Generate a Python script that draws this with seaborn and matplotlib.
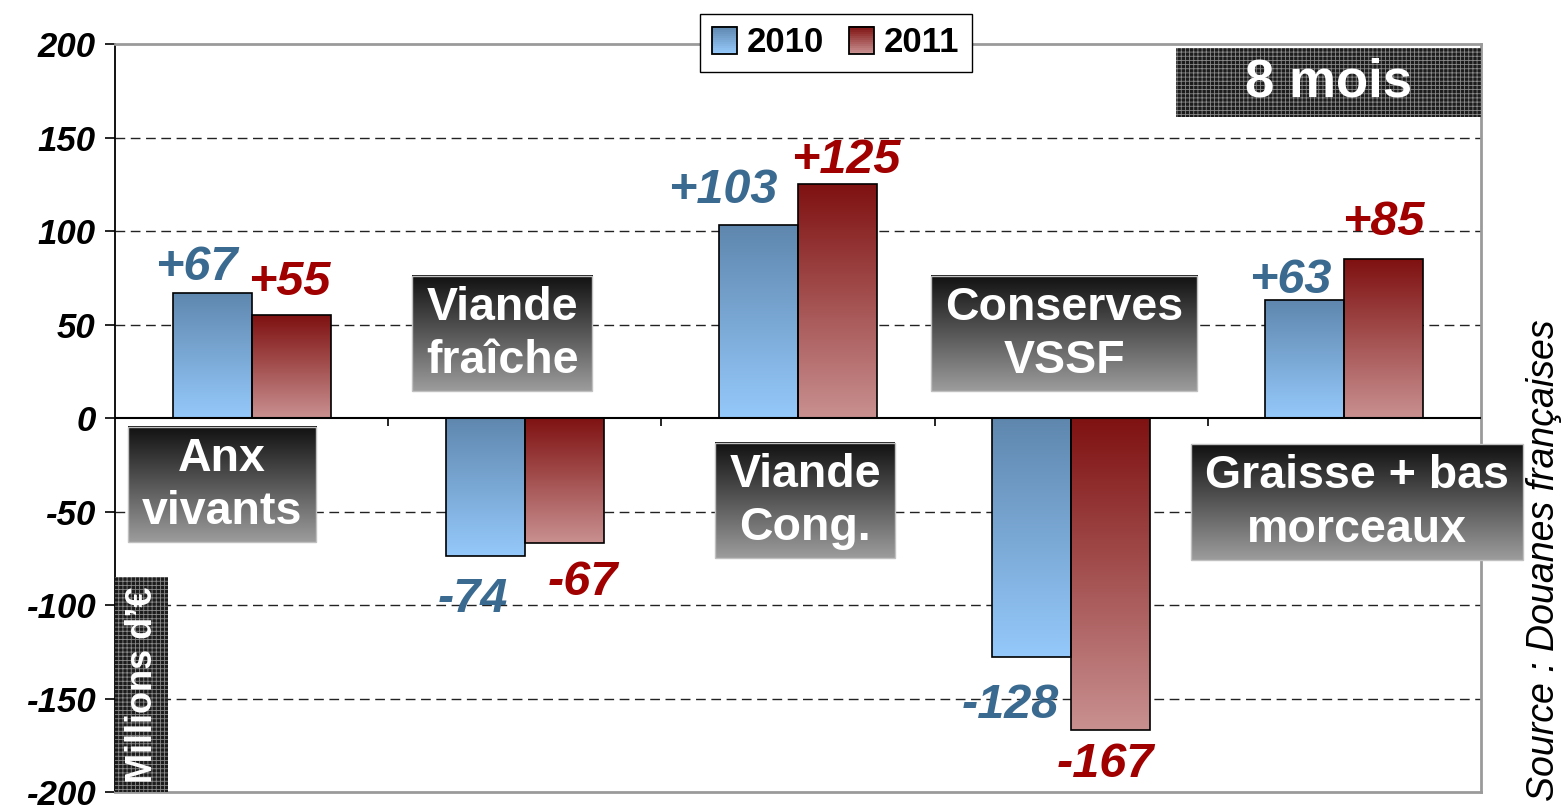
import numpy as np
import pandas as pd
import matplotlib
matplotlib.use("Agg")
import matplotlib.pyplot as plt
import seaborn as sns
from matplotlib.patches import Rectangle, Patch
from matplotlib.legend_handler import HandlerBase
from matplotlib.colors import to_rgb

# ---------------- data ----------------
categories = ["Anx vivants", "Viande fraîche", "Viande Cong.", "Conserves VSSF", "Graisse + bas morceaux"]
cat_labels = ["Anx\nvivants", "Viande\nfraîche", "Viande\nCong.", "Conserves\nVSSF", "Graisse + bas\nmorceaux"]
years = ["2010", "2011"]
values_2010 = [67, -74, 103, -128, 63]
values_2011 = [55, -67, 125, -167, 85]
yticks = [200, 150, 100, 50, 0, -50, -100, -150, -200]

# ---------------- styles / layout ----------------
grad_2010 = ("#5f87ae", "#95c9fb")   # top, bottom
grad_2011 = ("#7f1111", "#c99090")
txt_2010 = "#3b6a90"
txt_2011 = "#a00000"
box_grad = ("#111111", "#9c9c9c")
# label box centres (x in category units, y in data units)
label_pos = [(-0.108, -36), (0.917, 44.5), (2.026, -44.5), (2.974, 44.5), (4.046, -45.5)]
# value-label placement relative to the bar end (pixels): right edge shift, baseline shift (up +)
lab_dx = {"2010": [-14, -17, -21, -12, -13], "2011": [0, 14, 23, 4, 1]}
lab_dy = {"2010": [12.7, -55.6, 22, -60.6, 7], "2011": [20, -51.7, 11, -46.7, 24]}
PX2PT = 72 / 100

sns.set_theme(style="white")
plt.rcParams["font.family"] = ["Liberation Sans", "DejaVu Sans"]
plt.rcParams["hatch.linewidth"] = 0.6
plt.rcParams["text.color"] = "black"

df = pd.DataFrame({
    "cat": categories * 2,
    "year": [years[0]] * len(categories) + [years[1]] * len(categories),
    "value": values_2010 + values_2011,
})

fig = plt.figure(figsize=(15.65, 8.09), dpi=100)
ax = fig.add_axes([0.07348, 0.02101, 0.87284, 0.92460])

sns.barplot(data=df, x="cat", y="value", hue="year", order=categories, hue_order=years,
            palette=[grad_2010[0], grad_2011[0]], width=0.578, saturation=1,
            edgecolor="black", linewidth=1.2, legend=False, ax=ax, zorder=3)

ax.set_ylim(-200, 200)
ax.set_xlim(-0.5, len(categories) - 0.5)
ax.set_autoscale_on(False)


def gradient(top, bottom, n=256):
    t = np.linspace(0, 1, n)[:, None]
    a, b = np.array(to_rgb(top)), np.array(to_rgb(bottom))
    return (a * (1 - t) + b * t)[:, None, :]


# gradient fill for bars
for cont, grad in zip(ax.containers, [grad_2010, grad_2011]):
    for p in cont.patches:
        x0 = p.get_x()
        w = p.get_width()
        y0 = p.get_y()
        h = p.get_height()
        lo, hi = min(y0, y0 + h), max(y0, y0 + h)
        im = ax.imshow(gradient(*grad), extent=[x0, x0 + w, lo, hi], origin="upper",
                       aspect="auto", zorder=2.9, interpolation="bilinear")
        im.set_clip_path(p)
        p.set_facecolor("none")
        p.set_zorder(3.1)

ax.set_ylim(-200, 200)
ax.set_xlim(-0.5, len(categories) - 0.5)

# grid and zero line
for y in yticks:
    if y not in (200, -200, 0):
        ax.axhline(y, color="#222222", lw=1.0, ls=(0, (7, 4)), zorder=1)
ax.axhline(0, color="black", lw=1.5, zorder=3.2)
ax.vlines(np.arange(len(categories) - 1) + 0.5, 0, -4.5, color="black", lw=1.2, zorder=3.2)

# spines / ticks
for s in ["top", "right", "bottom"]:
    ax.spines[s].set_color("#9a9a9a")
    ax.spines[s].set_linewidth(2)
ax.spines["left"].set_color("black")
ax.spines["left"].set_linewidth(1.3)
ax.set_xticks([])
ax.set_yticks(yticks)
ax.set_yticklabels([str(v) for v in yticks])
ax.tick_params(axis="y", direction="out", length=7, width=1.2, color="black", left=True,
               labelsize=25, pad=7, labelcolor="black")
for lab in ax.get_yticklabels():
    lab.set_fontweight("bold")
    lab.set_fontstyle("italic")
ax.set_xlabel("")
ax.set_ylabel("")

# value labels
for cont, yr, col in zip(ax.containers, years, [txt_2010, txt_2011]):
    vals = values_2010 if yr == "2010" else values_2011
    for i, (p, v) in enumerate(zip(cont.patches, vals)):
        xy = (p.get_x() + p.get_width(), v)
        ax.annotate(f"{v:+d}", xy=xy,
                    xytext=(lab_dx[yr][i] * PX2PT, lab_dy[yr][i] * PX2PT),
                    textcoords="offset points", ha="right", va="baseline",
                    fontsize=35, fontweight="bold", fontstyle="italic",
                    color=col, zorder=7)

# category label texts
cat_texts = []
for lab, (cx, cy) in zip(cat_labels, label_pos):
    t = ax.text(cx, cy, lab, ha="center", va="center", fontsize=33.5, fontweight="bold",
                color="white", linespacing=1.27, zorder=7, clip_on=False)
    cat_texts.append(t)

# "8 mois" box
ax.add_patch(Rectangle((0.7767, 0.9024), 0.2233, 0.0923, transform=ax.transAxes,
                       facecolor="#1c1c1c", edgecolor="#8a8a8a", hatch="++++", lw=0, zorder=4,
                       clip_on=False))
ax.text(0.8884, 0.9486, "8 mois", transform=ax.transAxes, ha="center", va="center",
        fontsize=38, fontweight="bold", color="white", zorder=7)

# "Millions d'€" box
ax.add_patch(Rectangle((0.0, 0.0), 0.0388, 0.2874, transform=ax.transAxes,
                       facecolor="#1c1c1c", edgecolor="#8a8a8a", hatch="++++", lw=0, zorder=4,
                       clip_on=False))
ax.text(0.0205, 0.1437, "Millions d\u2019€", transform=ax.transAxes, ha="center", va="center",
        rotation=90, fontsize=26, fontweight="bold", color="white", zorder=7)

# source
fig.text(0.9866, 0.308, "Source : Douanes françaises", rotation=90, ha="center", va="center",
         fontsize=27, fontstyle="italic", color="black")


# legend with gradient handles
class GradHandler(HandlerBase):
    def __init__(self, top, bottom):
        super().__init__()
        self.top, self.bottom = top, bottom

    def create_artists(self, legend, orig_handle, xdescent, ydescent, width, height, fontsize, trans):
        n = 14
        g = gradient(self.top, self.bottom, n)[:, 0, :]
        x0, y0 = -xdescent, -ydescent
        arts = []
        for i in range(n):
            yy = y0 + height * (1 - (i + 1) / n)
            arts.append(Rectangle((x0, yy), width, height / n + 0.2, facecolor=g[i],
                                  edgecolor="none", transform=trans))
        arts.append(Rectangle((x0, y0), width, height, facecolor="none", edgecolor="black",
                              lw=1.3, transform=trans))
        return arts


h1, h2 = Patch(), Patch()
leg = ax.legend([h1, h2], years, handler_map={h1: GradHandler(*grad_2010), h2: GradHandler(*grad_2011)},
                loc="center", bbox_to_anchor=(0.534, 0.947), bbox_transform=fig.transFigure,
                ncol=2, prop={"weight": "bold", "size": 25}, frameon=True, fancybox=False,
                framealpha=1, edgecolor="black", borderpad=0.35, handlelength=0.72,
                handleheight=0.85, handletextpad=0.3, columnspacing=0.7)
leg.get_frame().set_linewidth(1.0)
leg.set_zorder(8)

# gradient boxes behind category labels
fig.canvas.draw()
r = fig.canvas.get_renderer()
inv = ax.transData.inverted()
for t in cat_texts:
    bb = t.get_window_extent(r)
    x0, y0 = inv.transform((bb.x0 - 14, bb.y0 - 8))
    x1, y1 = inv.transform((bb.x1 + 14, bb.y1 + 10))
    ax.imshow(gradient(*box_grad), extent=[x0, x1, y0, y1], origin="upper", aspect="auto",
              zorder=6, clip_on=False, interpolation="bilinear")
    ax.add_patch(Rectangle((x0, y0), x1 - x0, y1 - y0, facecolor="none", edgecolor="#c0c0c0",
                           lw=1.0, zorder=6.1, clip_on=False))

ax.set_ylim(-200, 200)
ax.set_xlim(-0.5, len(categories) - 0.5)

fig.savefig("out.png", dpi=100)
